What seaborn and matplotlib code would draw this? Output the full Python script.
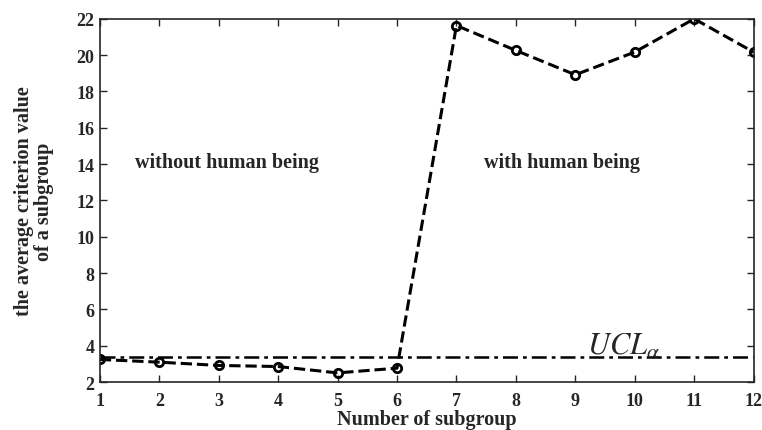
import pandas as pd
import matplotlib
matplotlib.use('Agg')
from matplotlib import pyplot as plt
import seaborn as sns

# data
subgroups = [1, 2, 3, 4, 5, 6, 7, 8, 9, 10, 11, 12]
avg_criterion = [3.25, 3.10, 2.92, 2.86, 2.51, 2.77, 21.63, 20.26, 18.92, 20.17, 22.0, 20.17]
ucl_value = 3.38
x_ticks = list(range(1, 13))
y_ticks = list(range(2, 23, 2))

sns.set_style('ticks')
plt.rcParams['font.family'] = ['Liberation Serif', 'DejaVu Serif']
plt.rcParams['mathtext.fontset'] = 'stix'
plt.rcParams['xtick.direction'] = 'in'
plt.rcParams['ytick.direction'] = 'in'

df = pd.DataFrame({'subgroup': subgroups, 'value': avg_criterion})

fig = plt.figure(figsize=(7.62, 4.31), dpi=100)
ax = fig.add_axes([0.131, 0.111, 0.858, 0.843])

sns.lineplot(data=df, x='subgroup', y='value', ax=ax, color='black',
             linestyle='--', linewidth=2.2, marker='o', markersize=6,
             markerfacecolor='none', markeredgecolor='black', markeredgewidth=2)
ax.axhline(ucl_value, color='black', linestyle='-.', linewidth=1.8, dashes=(6, 2, 1.5, 2))

ax.set_xlim(1, 12)
ax.set_ylim(2, 22)
ax.set_xticks(x_ticks)
ax.set_yticks(y_ticks)
ax.tick_params(top=True, right=True, length=5, width=1, labelsize=13)
ax.tick_params(axis='x', pad=7)
ax.tick_params(axis='y', pad=4)
for lab in ax.get_xticklabels() + ax.get_yticklabels():
    lab.set_fontweight('bold')
for sp in ax.spines.values():
    sp.set_linewidth(1.2)

ax.set_xlabel('Number of subgroup', fontsize=14.5, fontweight='bold')
ax.set_ylabel('the average criterion value\nof a subgroup', fontsize=14.5, fontweight='bold',
              linespacing=1.0)
ax.xaxis.set_label_coords(0.5, -0.074)
ax.yaxis.set_label_coords(-0.1, 0.5)
ax.yaxis.label.set_va('center')

ax.text(1.59, 14.1, 'without human being', fontsize=14.5, fontweight='bold', va='center')
ax.text(7.46, 14.1, 'with human being', fontsize=14.5, fontweight='bold', va='center')
ax.text(9.19, 3.56, r'$UCL_{\alpha}$', fontsize=22, va='baseline')

plt.savefig('out.png', dpi=100)
plt.close()
